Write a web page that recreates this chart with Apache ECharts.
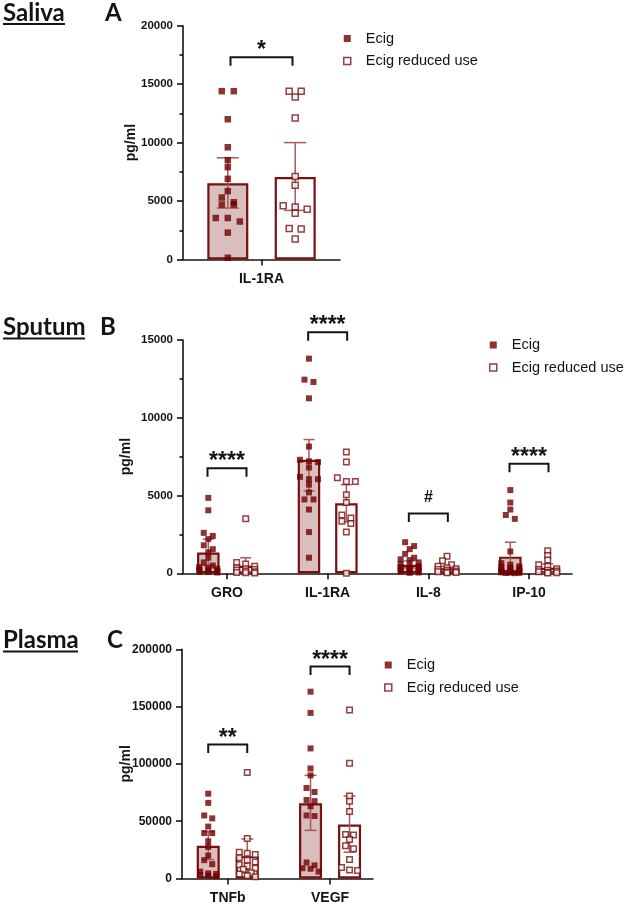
<!DOCTYPE html>
<html>
<head>
<meta charset="utf-8">
<script src="https://cdn.jsdelivr.net/npm/echarts@6/dist/echarts.min.js"></script>
<style>
  html, body { margin: 0; padding: 0; background: #fff; }
  #box { width: 625px; height: 905px; }
</style>
</head>
<body>
<div id="box"></div>
<script>
// values, pg/ml

// A - saliva
const salivaCats = ['IL-1RA'];
const salivaEcig = [[14400, 14400, 12000, 9600, 8500, 7900, 6900, 5850, 5300, 4900, 4700, 4700, 3550, 3550, 3250, 2300, 150]];
const salivaReduced = [[14400, 14400, 13900, 12100, 7100, 6350, 4600, 4500, 4300, 3950, 2650, 2600, 1750]];
const salivaEcigMean = [6520];
const salivaReducedMean = [7050];
const salivaEcigErr = [[4400, 8700]];
const salivaReducedErr = [[4200, 10000]];
const salivaSigY = [17300];
const salivaSigText = ['*'];

// B - sputum
const sputumCats = ['GRO', 'IL-1RA', 'IL-8', 'IP-10'];
const sputumEcig = [
  [4850, 4050, 2600, 2400, 2200, 1800, 1550, 1350, 1000, 700, 500, 400, 350, 300, 250, 200, 150, 100, 80, 50],
  [13800, 12450, 12300, 11250, 8150, 7300, 7200, 7150, 6800, 6200, 6050, 6050, 5700, 5200, 4750, 4750, 4100, 2650, 1000],
  [2000, 1750, 1550, 1250, 1000, 900, 850, 700, 600, 500, 450, 400, 350, 300, 250, 200, 150, 120, 80, 50, 30],
  [5350, 4550, 4100, 3750, 3500, 1400, 650, 550, 450, 400, 350, 300, 250, 200, 150, 120, 100, 80, 60, 40, 30, 20, 10],
];
const sputumReduced = [
  [3500, 700, 600, 450, 350, 300, 250, 200, 150, 100, 50, 30, 20],
  [7800, 7150, 6150, 5900, 5900, 5050, 4550, 3750, 3550, 3350, 3200, 2650, 0],
  [1100, 800, 550, 450, 350, 300, 250, 200, 150, 100, 80, 50, 30],
  [1450, 1150, 850, 550, 450, 300, 250, 200, 150, 100, 50, 30, 20],
];
const sputumEcigMean = [1330, 7300, 550, 1070];
const sputumReducedMean = [480, 4500, 320, 350];
const sputumEcigErr = [[500, 2200], [5300, 8600], [350, 800], [150, 2000]];
const sputumReducedErr = [[100, 1000], [3300, 5700], [150, 450], [50, 600]];
const sputumSigY = [6750, 15500, 3850, 7050];
const sputumSigText = ['****', '****', '#', '****'];

// C - plasma
const plasmaCats = ['TNFb', 'VEGF'];
const plasmaEcig = [
  [74000, 66000, 55000, 52500, 45300, 39600, 39600, 32500, 27500, 20000, 16000, 12500, 6000, 4500, 4000, 3000, 2500, 2000],
  [163000, 144500, 113500, 96000, 90000, 79000, 75500, 68500, 67500, 63000, 55000, 54500, 14000, 11500, 9000, 8500, 6000],
];
const plasmaReduced = [
  [92500, 35000, 23000, 22000, 21000, 18000, 16000, 14500, 12000, 11000, 9000, 8000, 5000, 4000, 2500, 1500],
  [147000, 100500, 72000, 67500, 58500, 38500, 38000, 34000, 28500, 26000, 16500, 9500, 7500, 7000],
];
const plasmaEcigMean = [28600, 65600];
const plasmaReducedMean = [19500, 47100];
const plasmaEcigErr = [[16500, 41000], [42000, 90000]];
const plasmaReducedErr = [[5000, 34500], [23000, 72000]];
const plasmaSigY = [117000, 185000];
const plasmaSigText = ['**', '****'];

const panels = [
  { cats: salivaCats, ecig: salivaEcig, reduced: salivaReduced, ecigMean: salivaEcigMean, reducedMean: salivaReducedMean,
    ecigErr: salivaEcigErr, reducedErr: salivaReducedErr, sigY: salivaSigY, sigText: salivaSigText },
  { cats: sputumCats, ecig: sputumEcig, reduced: sputumReduced, ecigMean: sputumEcigMean, reducedMean: sputumReducedMean,
    ecigErr: sputumEcigErr, reducedErr: sputumReducedErr, sigY: sputumSigY, sigText: sputumSigText },
  { cats: plasmaCats, ecig: plasmaEcig, reduced: plasmaReduced, ecigMean: plasmaEcigMean, reducedMean: plasmaReducedMean,
    ecigErr: plasmaEcigErr, reducedErr: plasmaReducedErr, sigY: plasmaSigY, sigText: plasmaSigText },
];

// layout per panel
const layouts = [
  { grid: { left: 183, top: 25.7, width: 157, height: 233.8 }, xMin: -0.5, xMax: 0.5, yMax: 20000, yStep: 5000, minor: true,
    tickFont: 11.5, nameGap: 45, barW: 41, offPx: 33.7, capPx: 11, dot: 6.5, hollow: 6, dotGap: 12, rowThr: 5.5, maxRow: 3,
    sigHalf: 31, legend: { left: 343, top: 31 } },
  { grid: { left: 183, top: 340, width: 389, height: 233.3 }, xMin: -0.437, xMax: 3.427, yMax: 15000, yStep: 5000, minor: true,
    tickFont: 11.5, nameGap: 50, barW: 22.5, offPx: 18.7, capPx: 5.5, dot: 6, hollow: 5.5, dotGap: 9, rowThr: 4.5, maxRow: 3,
    sigHalf: 19.5, legend: { left: 489, top: 337.5 } },
  { grid: { left: 182, top: 649.3, width: 191, height: 230.7 }, xMin: -0.447, xMax: 1.42, yMax: 200000, yStep: 50000, minor: false,
    tickFont: 12, nameGap: 49, barW: 23, offPx: 19.5, capPx: 6, dot: 6, hollow: 5.5, dotGap: 8, rowThr: 4.5, maxRow: 3,
    sigHalf: 19.5, legend: { left: 384, top: 657.5 } },
];

const FONT = '"Liberation Sans", Arial, sans-serif';
const TITLE_FONT = 'Lato, "Open Sans", sans-serif';
const MAROON = '#781010';
const DOT = '#700000';
const ERR = '#a85a5a';
const BAR_FILL = '#d9bebe';
const INK = '#141414';

// spread points of similar value side by side, like a scatter dot plot
function swarm(values, center, L) {
  const pxPerY = L.grid.height / L.yMax;
  const pxPerX = L.grid.width / (L.xMax - L.xMin);
  const sorted = values.slice().sort((a, b) => b - a);
  const rows = [];
  let row = null;
  sorted.forEach((v) => {
    if (!row || (row.top - v) * pxPerY > L.rowThr || row.vals.length >= L.maxRow) {
      row = { top: v, vals: [] };
      rows.push(row);
    }
    row.vals.push(v);
  });
  const pts = [];
  rows.forEach((r) => {
    const k = r.vals.length;
    r.vals.forEach((v, i) => {
      const dx = (i - (k - 1) / 2) * L.dotGap;
      pts.push([center + dx / pxPerX, v]);
    });
  });
  return pts;
}

const axisStyle = { color: INK, width: 1.6 };
const series = [];

panels.forEach((d, i) => {
  const L = layouts[i];
  const pxPerX = L.grid.width / (L.xMax - L.xMin);
  const off = L.offPx / pxPerX;

  const bars = [];
  const errs = [];
  let ecigPts = [];
  let redPts = [];
  d.cats.forEach((c, j) => {
    bars.push({ value: [j - off, d.ecigMean[j]], itemStyle: { color: BAR_FILL } });
    bars.push({ value: [j + off, d.reducedMean[j]], itemStyle: { color: '#fff' } });
    errs.push([j - off, d.ecigErr[j][0], d.ecigErr[j][1]]);
    errs.push([j + off, d.reducedErr[j][0], d.reducedErr[j][1]]);
    ecigPts = ecigPts.concat(swarm(d.ecig[j], j - off, L));
    redPts = redPts.concat(swarm(d.reduced[j], j + off, L));
  });

  series.push({
    type: 'bar', name: 'mean' + i, xAxisIndex: i, yAxisIndex: i, barWidth: L.barW, silent: true, z: 2,
    itemStyle: { borderColor: MAROON, borderWidth: 2.2 },
    data: bars,
  });

  series.push({
    type: 'custom', name: 'sd' + i, xAxisIndex: i, yAxisIndex: i, silent: true, z: 3,
    encode: { x: 0, y: [1, 2] },
    data: errs,
    renderItem: (params, api) => {
      const x = api.value(0);
      const lo = api.coord([x, api.value(1)]);
      const hi = api.coord([x, api.value(2)]);
      const style = { stroke: ERR, lineWidth: 1.5, fill: null };
      const c = L.capPx;
      return {
        type: 'group',
        children: [
          { type: 'line', shape: { x1: lo[0], y1: lo[1], x2: hi[0], y2: hi[1] }, style },
          { type: 'line', shape: { x1: hi[0] - c, y1: hi[1], x2: hi[0] + c, y2: hi[1] }, style },
          { type: 'line', shape: { x1: lo[0] - c, y1: lo[1], x2: lo[0] + c, y2: lo[1] }, style },
        ],
      };
    },
  });

  series.push({
    type: 'scatter', name: 'Ecig', xAxisIndex: i, yAxisIndex: i, z: 4,
    symbol: 'rect', symbolSize: L.dot, itemStyle: { color: DOT },
    data: ecigPts,
  });
  series.push({
    type: 'scatter', name: 'Ecig reduced use', xAxisIndex: i, yAxisIndex: i, z: 4,
    symbol: 'rect', symbolSize: L.hollow, itemStyle: { color: '#fff', borderColor: MAROON, borderWidth: 1.5 },
    data: redPts,
  });

  series.push({
    type: 'custom', name: 'sig' + i, xAxisIndex: i, yAxisIndex: i, silent: true, clip: false, z: 5,
    encode: { x: 0, y: 1 },
    data: d.sigY.map((y, j) => [j, y]),
    renderItem: (params, api) => {
      const p = api.coord([api.value(0), api.value(1)]);
      const h = L.sigHalf;
      const leg = 8.5;
      const txt = d.sigText[params.dataIndex];
      const hash = txt === '#';
      return {
        type: 'group',
        children: [
          { type: 'polyline',
            shape: { points: [[p[0] - h, p[1] + leg], [p[0] - h, p[1]], [p[0] + h, p[1]], [p[0] + h, p[1] + leg]] },
            style: { stroke: INK, lineWidth: 2, fill: null } },
          { type: 'text', x: p[0], y: p[1] + (hash ? -16 : -6.2),
            style: { text: txt, font: 'bold ' + (hash ? 16 : 23) + 'px ' + FONT, fill: INK,
                     textAlign: 'center', textVerticalAlign: 'middle' } },
        ],
      };
    },
  });
});

const legendData = [
  { name: 'Ecig', icon: 'rect', itemStyle: { color: DOT } },
  { name: 'Ecig reduced use', icon: 'rect', itemStyle: { color: '#fff', borderColor: MAROON, borderWidth: 1.5 } },
];

// panel headings: underlined tissue name and a panel letter
function heading(word, letter, baseline, wordW, letterX) {
  const size = 24;
  const mid = baseline - 0.31 * size;
  return [
    { type: 'text', x: 3, y: mid, style: { text: word, font: 'bold ' + size + 'px ' + TITLE_FONT, fill: INK, textVerticalAlign: 'middle' } },
    { type: 'line', shape: { x1: 3, y1: baseline + 3.5, x2: 3 + wordW, y2: baseline + 3.5 }, style: { stroke: INK, lineWidth: 1.8 } },
    { type: 'text', x: letterX, y: mid, style: { text: letter, font: 'bold ' + size + 'px ' + TITLE_FONT, fill: INK, textVerticalAlign: 'middle' } },
  ];
}

const option = {
  animation: false,
  backgroundColor: '#fff',
  grid: layouts.map((L) => ({ left: L.grid.left, top: L.grid.top, width: L.grid.width, height: L.grid.height })),
  xAxis: layouts.map((L, i) => ({
    type: 'value', gridIndex: i, min: L.xMin, max: L.xMax,
    splitLine: { show: false },
    axisLine: { show: true, onZero: false, lineStyle: axisStyle },
    axisTick: { show: true, customValues: panels[i].cats.map((c, j) => j), length: 6, lineStyle: axisStyle },
    axisLabel: {
      customValues: panels[i].cats.map((c, j) => j),
      formatter: (v) => panels[i].cats[Math.round(v)],
      fontFamily: FONT, fontWeight: 'bold', fontSize: 14, color: INK, margin: 12.5,
    },
  })),
  yAxis: layouts.map((L, i) => ({
    type: 'value', gridIndex: i, min: 0, max: L.yMax, interval: L.yStep,
    name: 'pg/ml', nameLocation: 'middle', nameGap: L.nameGap, nameMoveOverlap: false,
    nameTextStyle: { fontFamily: FONT, fontWeight: 'bold', fontSize: 14, color: INK },
    splitLine: { show: false },
    axisLine: { show: true, onZero: false, lineStyle: axisStyle },
    axisTick: { show: true, length: 6, lineStyle: axisStyle },
    minorTick: { show: L.minor, splitNumber: 2, length: 3.5, lineStyle: axisStyle },
    minorSplitLine: { show: false },
    axisLabel: { formatter: (v) => String(v), fontFamily: FONT, fontWeight: 'bold', fontSize: L.tickFont, color: INK, margin: 10 },
  })),
  legend: layouts.map((L) => ({
    orient: 'vertical', left: L.legend.left, top: L.legend.top, padding: 0,
    itemWidth: 7, itemHeight: 7, itemGap: 7.5, selectedMode: false,
    textStyle: { fontFamily: FONT, fontSize: 14.5, color: INK, padding: [0, 0, 0, 10] },
    data: legendData,
  })),
  graphic: [].concat(
    heading('Saliva', 'A', 20.5, 62, 105),
    heading('Sputum', 'B', 335, 82, 100),
    heading('Plasma', 'C', 648, 75, 107),
  ),
  series,
};

const chart = echarts.init(document.getElementById('box'), null, { renderer: 'canvas' });
chart.setOption(option);
</script>
</body>
</html>
